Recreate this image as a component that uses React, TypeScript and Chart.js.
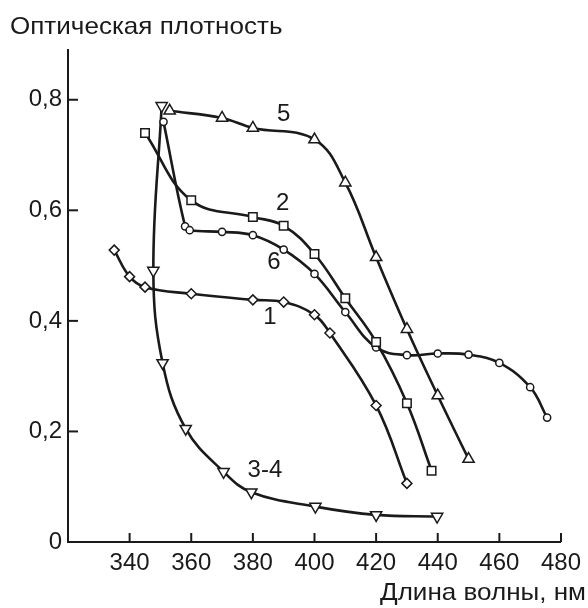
import React, { useEffect, useRef } from "react";
import { Chart, registerables } from "chart.js";

Chart.register(...registerables);

// ---- data (wavelength, nm / optical density) ----
const curve5X = [353, 370, 380, 400, 410, 420, 430, 440, 450];
const curve5Y = [0.78, 0.767, 0.749, 0.728, 0.65, 0.515, 0.385, 0.265, 0.15];

const curve2X = [345, 360, 380, 390, 400, 410, 420, 430, 438];
const curve2Y = [0.74, 0.618, 0.588, 0.572, 0.521, 0.441, 0.362, 0.251, 0.129];

const curve6X = [351, 358, 359.5, 370, 380, 390, 400, 410, 420, 430, 440, 450, 460, 470, 475.5];
const curve6Y = [0.76, 0.571, 0.564, 0.561, 0.555, 0.529, 0.485, 0.416, 0.352, 0.338, 0.341, 0.339, 0.324, 0.28, 0.225];

const curve1X = [335, 340, 345, 360, 380, 390, 400, 405, 420, 430];
const curve1Y = [0.528, 0.48, 0.461, 0.449, 0.438, 0.434, 0.411, 0.378, 0.247, 0.106];

const curve34X = [350.4, 347.7, 350.7, 358.2, 370.5, 379.5, 400.3, 420, 439.8];
const curve34Y = [0.789, 0.491, 0.324, 0.205, 0.127, 0.09, 0.064, 0.049, 0.046];

const curveLabels = ["5", "2", "6", "1", "3-4"];
const labelX = [390, 389.7, 386.8, 385.5, 383.9];
const labelY = [0.774, 0.612, 0.505, 0.406, 0.13];

const xTicks = [340, 360, 380, 400, 420, 440, 460, 480];
const yTicks = [0, 0.2, 0.4, 0.6, 0.8];

const yTitle = "Оптическая плотность";
const xTitle = "Длина волны, нм";

const FONT = "'Liberation Sans', Arial, sans-serif";
const INK = "#1a1a1a";

const toPts = (xs: number[], ys: number[]) => xs.map((x, i) => ({ x, y: ys[i] }));

export default function App() {
  const ref = useRef<HTMLCanvasElement | null>(null);

  useEffect(() => {
    if (!ref.current) return;

    const annot = {
      id: "annot",
      afterDraw(chart: any) {
        const { ctx, scales } = chart;
        const xs = scales.x;
        const ys = scales.y;
        ctx.save();
        ctx.strokeStyle = INK;
        ctx.lineWidth = 2;
        // inward tick marks
        yTicks.forEach((v) => {
          if (v === 0) return;
          const py = ys.getPixelForValue(v);
          ctx.beginPath();
          ctx.moveTo(xs.left, py);
          ctx.lineTo(xs.left + 10, py);
          ctx.stroke();
        });
        xTicks.forEach((v) => {
          const px = xs.getPixelForValue(v);
          ctx.beginPath();
          ctx.moveTo(px, ys.bottom);
          ctx.lineTo(px, ys.bottom - 9);
          ctx.stroke();
        });
        // curve labels
        ctx.fillStyle = INK;
        ctx.font = `24px ${FONT}`;
        ctx.textAlign = "center";
        ctx.textBaseline = "middle";
        curveLabels.forEach((t, i) => {
          ctx.fillText(t, xs.getPixelForValue(labelX[i]), ys.getPixelForValue(labelY[i]));
        });
        // axis titles (slightly wide lettering, as in the source)
        const sx = 1.085;
        ctx.textBaseline = "alphabetic";
        ctx.save();
        ctx.translate(10, 34);
        ctx.scale(sx, 1);
        ctx.textAlign = "left";
        ctx.fillText(yTitle, 0, 0);
        ctx.restore();
        ctx.save();
        ctx.translate(586, 600);
        ctx.scale(sx, 1);
        ctx.textAlign = "right";
        ctx.fillText(xTitle, 0, 0);
        ctx.restore();
        ctx.restore();
      },
    };

    const common = {
      borderColor: INK,
      borderWidth: 2.6,
      pointBackgroundColor: "#ffffff",
      pointBorderColor: INK,
      pointBorderWidth: 1.5,
      tension: 0.4,
      fill: false,
    };

    const chart = new Chart(ref.current, {
      type: "line",
      data: {
        datasets: [
          { ...common, label: "5", data: toPts(curve5X, curve5Y), pointStyle: "triangle", pointRadius: 6.5 },
          { ...common, label: "2", data: toPts(curve2X, curve2Y), pointStyle: "rect", pointRadius: 6 },
          { ...common, label: "6", data: toPts(curve6X, curve6Y), pointStyle: "circle", pointRadius: 3.6 },
          { ...common, label: "1", data: toPts(curve1X, curve1Y), pointStyle: "rectRot", pointRadius: 5 },
          { ...common, label: "3-4", data: toPts(curve34X, curve34Y), pointStyle: "triangle", pointRotation: 180, pointRadius: 6.5 },
        ],
      },
      options: {
        animation: false,
        responsive: false,
        devicePixelRatio: 1,
        layout: { padding: { top: 50, right: 23, left: 0, bottom: 0 } },
        plugins: { legend: { display: false }, tooltip: { enabled: false }, title: { display: false } },
        scales: {
          x: {
            type: "linear",
            min: 320,
            max: 480,
            afterFit: (s: any) => { s.height = 66; },
            afterBuildTicks: (s: any) => { s.ticks = xTicks.map((v) => ({ value: v })); },
            grid: { display: false, drawTicks: false },
            border: { display: true, color: INK, width: 2 },
            ticks: {
              color: INK,
              padding: 7,
              maxRotation: 0,
              autoSkip: false,
              font: { family: FONT, size: 24 },
              callback: (v: any) => String(v),
            },
          },
          y: {
            type: "linear",
            min: 0,
            max: 0.89,
            afterFit: (s: any) => { s.width = 68; },
            afterBuildTicks: (s: any) => { s.ticks = yTicks.map((v) => ({ value: v })); },
            grid: { display: false, drawTicks: false },
            border: { display: true, color: INK, width: 2 },
            ticks: {
              color: INK,
              padding: 6,
              autoSkip: false,
              font: { family: FONT, size: 24 },
              callback: (v: any) => (v === 0 ? "0" : Number(v).toFixed(1).replace(".", ",")),
            },
          },
        },
      },
      plugins: [annot],
    } as any);

    return () => chart.destroy();
  }, []);

  return (
    <div style={{ position: "fixed", left: 0, top: 0, width: 588, height: 608, background: "#fff" }}>
      <canvas ref={ref} width={588} height={608} />
    </div>
  );
}
